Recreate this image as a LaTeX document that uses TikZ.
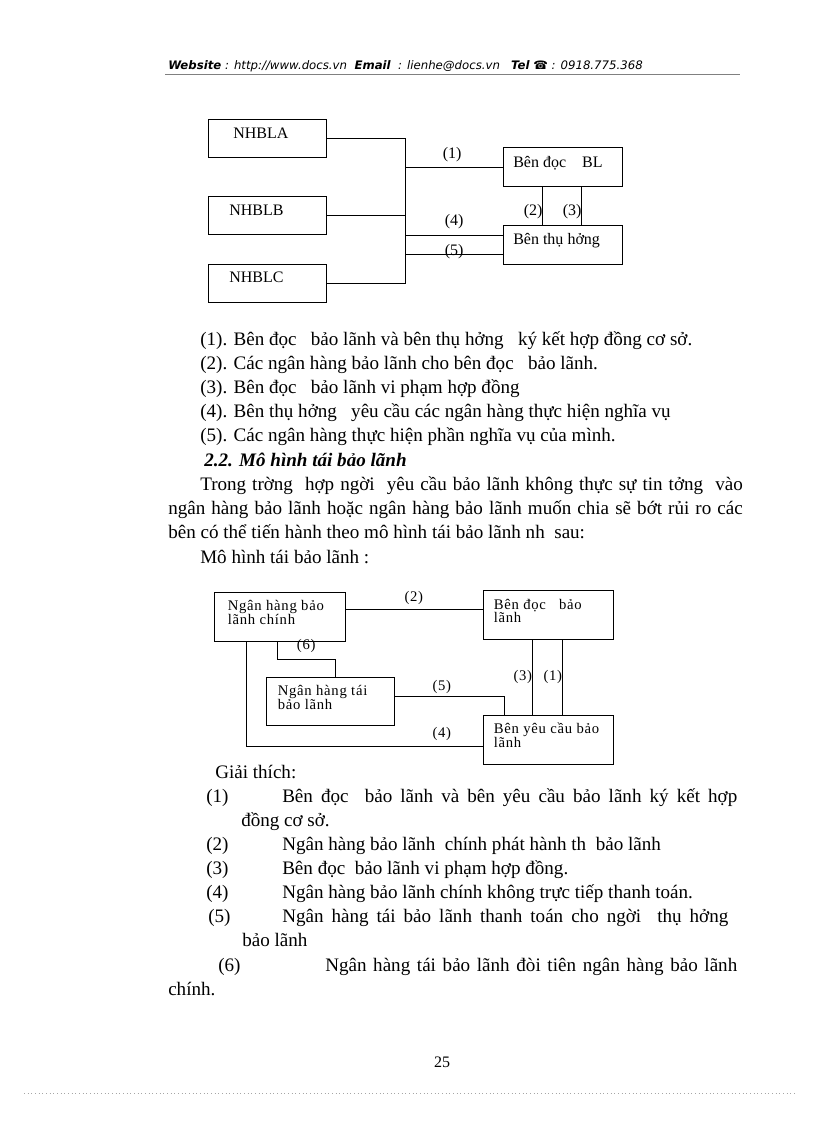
\documentclass[tikz,border=0pt]{standalone}
\usepackage{fontspec}
\setmainfont{Liberation Serif}
\newfontfamily\hdrfont{DejaVu Sans}
\newfontfamily\diagfont[LetterSpace=5]{Liberation Serif}
\begin{document}
\begin{tikzpicture}[x=0.75pt,y=-0.75pt,
  box/.style={draw, line width=0.75pt, inner sep=0pt},
  wh/.style 2 args={minimum width=#1*0.75pt, minimum height=#2*0.75pt},
  conn/.style={draw, line width=0.75pt},
  tA/.style={anchor=base west, inner sep=0pt, font=\fontsize{12}{14}\selectfont},
  tB/.style={anchor=base west, inner sep=0pt, font=\diagfont\fontsize{11}{11}\selectfont},
  body/.style={anchor=base west, inner sep=0pt, font=\fontsize{14.3}{17}\selectfont},
  hdr/.style={anchor=base west, inner sep=0pt, font=\hdrfont\itshape\fontsize{8.8}{11}\selectfont},
]
\useasboundingbox[fill=white] (0,0) rectangle (816,1123);

% ---------- header ----------
\node[hdr] (hd) at (168,70) {\textbf{Website} : http://www.docs.vn\ \ \textbf{Email}\ \ : lienhe@docs.vn\ \ \ \textbf{Tel}\ ☎ : 0918.775.368};
\coordinate (hl1) at (165,75);
\coordinate (hl2) at (740,75);
\draw[gray, line width=0.75pt] (hl1) -- (hl2);

% ---------- diagram 1 ----------
\node[box, wh={118}{38}] (A) at (267,139) {};
\node[box, wh={118}{38}] (B) at (267,216) {};
\node[box, wh={118}{38}] (C) at (267,283.5) {};
\node[box, wh={119}{39}] (D) at (562.5,167.5) {};
\node[box, wh={119}{38}] (E) at (562.5,245) {};
\node[tA] (At) at (233,138.5) {NHBLA};
\node[tA] (Bt) at (229,215) {NHBLB};
\node[tA] (Ct) at (229,282.5) {NHBLC};
\node[tA] (Dt) at (513,167.5) {Bên đọc\ \ \ \ BL};
\node[tA] (Et) at (513,244.5) {Bên thụ hởng};
\coordinate (busT) at (405,139);
\coordinate (busB) at (405,283.5);
\draw[conn] (A.east) -- (busT) -- (busB) -- (C.east);
\draw[conn] (B.east) -- (B.east -| busT);
\draw[conn] (busT |- D.west) -- (D.west);
\draw[conn] (busT |- 0,235.7) -- (E.west |- 0,235.7);
\draw[conn] (busT |- 0,254.3) -- (E.west |- 0,254.3);
\draw[conn] (D.south -| 542.7,0) -- (E.north -| 542.7,0);
\draw[conn] (D.south -| 581.7,0) -- (E.north -| 581.7,0);
\node[tA] (l1) at (442.5,159) {(1)};
\node[tA] (l4) at (444.5,226) {(4)};
\node[tA] (l5) at (444.5,255) {(5)};
\node[tA] (l2) at (523.5,216) {(2)};
\node[tA] (l3) at (562.5,216) {(3)};

% ---------- list ----------
\node[body] (p1) at (200,345) {(1). Bên đọc\ \ \ bảo lãnh và bên thụ hởng\ \ \ ký kết hợp đồng cơ sở.};
\node[body] (p2) at (200,369) {(2). Các ngân hàng bảo lãnh cho bên đọc\ \ \ bảo lãnh.};
\node[body] (p3) at (200,393) {(3). Bên đọc\ \ \ bảo lãnh vi phạm hợp đồng};
\node[body] (p4) at (200,417) {(4). Bên thụ hởng\ \ \ yêu cầu các ngân hàng thực hiện nghĩa vụ};
\node[body] (p5) at (200,441) {(5). Các ngân hàng thực hiện phần nghĩa vụ của mình.};
\node[body, font=\fontsize{14.3}{17}\selectfont\bfseries\itshape] (h22) at (204,466) {2.2. Mô hình tái bảo lãnh};
\node[body] (q1) at (200,490) {\makebox[542.5\dimexpr 0.75pt\relax][s]{Trong trờng\ \ hợp ngời\ \ yêu cầu bảo lãnh không thực sự tin tởng\ \ vào}};
\node[body] (q2) at (168,514) {\makebox[574.5\dimexpr 0.75pt\relax][s]{ngân hàng bảo lãnh hoặc ngân hàng bảo lãnh muốn chia sẽ bớt rủi ro các}};
\node[body] (q3) at (168,538) {bên có thể tiến hành theo mô hình tái bảo lãnh nh\ \ sau:};
\node[body] (q4) at (200,563) {Mô hình tái bảo lãnh :};

% ---------- diagram 2 ----------
\node[box, wh={131.4}{48.7}] (M) at (280,616.7) {};
\node[box, wh={130}{48.3}] (N) at (548.3,614.9) {};
\node[box, wh={128.3}{47.7}] (R) at (330.8,701.2) {};
\node[box, wh={130}{48.3}] (Y) at (548.3,739.9) {};
\node[tB] (Mt1) at (227.5,610.7) {Ngân hàng bảo};
\node[tB] (Mt2) at (227.5,624.3) {lãnh chính};
\node[tB] (Nt1) at (493.5,609.3) {Bên đọc\ \ \ bảo};
\node[tB] (Nt2) at (493.5,622.7) {lãnh};
\node[tB] (Rt1) at (277.5,695) {Ngân hàng tái};
\node[tB] (Rt2) at (277.5,709.3) {bảo lãnh};
\node[tB] (Yt1) at (493.5,733.3) {Bên yêu cầu bảo};
\node[tB] (Yt2) at (493.5,747.3) {lãnh};
\draw[conn] (M.east |- 0,609.3) -- (N.west |- 0,609.3);
\coordinate (c6a) at (277.3,659);
\coordinate (c6b) at (335.7,659);
\draw[conn] (M.south -| c6a) -- (c6a) -- (c6b) -- (R.north -| c6b);
\coordinate (c4a) at (246.7,746);
\draw[conn] (M.south -| c4a) -- (c4a) -- (Y.west |- c4a);
\coordinate (c5a) at (504,696);
\draw[conn] (R.east |- c5a) -- (c5a) -- (Y.north -| c5a);
\draw[conn] (N.south -| 532.7,0) -- (Y.north -| 532.7,0);
\draw[conn] (N.south -| 562.7,0) -- (Y.north -| 562.7,0);
\node[tB] (m2) at (404.3,601.7) {(2)};
\node[tB] (m6) at (296.7,649) {(6)};
\node[tB] (m5) at (432.3,690) {(5)};
\node[tB] (m4) at (432.3,737.3) {(4)};
\node[tB] (m3) at (513.3,680) {(3)};
\node[tB] (m1) at (543.3,680) {(1)};

% ---------- explanation ----------
\node[body] (g0) at (215,778) {Giải thích:};
\node[body] (g1n) at (206,802) {(1)};
\node[body] (g1) at (282,802) {\makebox[455\dimexpr 0.75pt\relax][s]{Bên đọc\ \ bảo lãnh và bên yêu cầu bảo lãnh ký kết hợp}};
\node[body] (g1b) at (241,826) {đồng cơ sở.};
\node[body] (g2n) at (206,850) {(2)};
\node[body] (g2) at (282,850) {Ngân hàng bảo lãnh\ \ chính phát hành th\ \ bảo lãnh};
\node[body] (g3n) at (206,874) {(3)};
\node[body] (g3) at (282,874) {Bên đọc\ \ bảo lãnh vi phạm hợp đồng.};
\node[body] (g4n) at (206,898) {(4)};
\node[body] (g4) at (282,898) {Ngân hàng bảo lãnh chính không trực tiếp thanh toán.};
\node[body] (g5n) at (208,922) {(5)};
\node[body] (g5) at (282,922) {\makebox[446\dimexpr 0.75pt\relax][s]{Ngân hàng tái bảo lãnh thanh toán cho ngời\ \ thụ hởng}};
\node[body] (g5b) at (242,946) {bảo lãnh};
\node[body] (g6n) at (218,971) {(6)};
\node[body] (g6) at (325,971) {\makebox[412\dimexpr 0.75pt\relax][s]{Ngân hàng tái bảo lãnh đòi tiên ngân hàng bảo lãnh}};
\node[body] (g6b) at (168,995) {chính.};

% ---------- footer ----------
\node[anchor=base, inner sep=0pt, font=\fontsize{12}{14}\selectfont] (pg) at (442,1067) {25};
\coordinate (f1) at (24,1093);
\coordinate (f2) at (797,1093);
\draw[gray!70, line width=0.75pt, dotted] (f1) -- (f2);
\end{tikzpicture}
\end{document}
